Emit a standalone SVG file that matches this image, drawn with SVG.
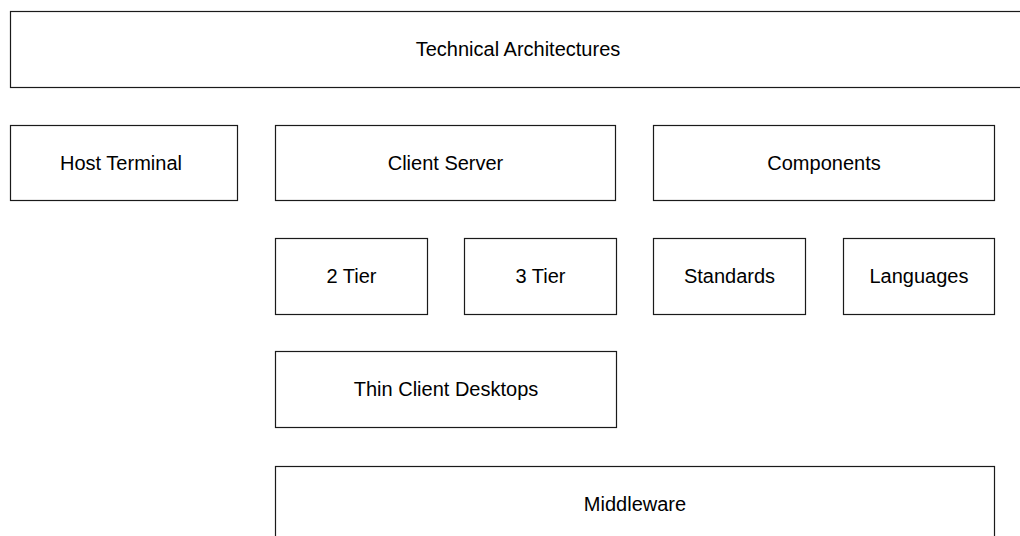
<svg xmlns="http://www.w3.org/2000/svg" width="1020" height="536" viewBox="0 0 1020 536">
<style>
rect{fill:#fff;stroke:#1a1a1a;stroke-width:1.2}
text{font-family:"Liberation Sans",Arial,sans-serif;font-size:20px;fill:#000;text-anchor:middle}
</style>
<rect x="0" y="0" width="1020" height="536" style="fill:#fff;stroke:none"/>
<g id="technical-architectures"><rect x="10.5" y="11.5" width="1030" height="76"/><text x="518" y="56">Technical Architectures</text></g>
<g id="host-terminal"><rect x="10.5" y="125.5" width="227" height="75"/><text x="121" y="169.5">Host Terminal</text></g>
<g id="client-server"><rect x="275.5" y="125.5" width="340" height="75"/><text x="445.5" y="169.5">Client Server</text></g>
<g id="components"><rect x="653.5" y="125.5" width="341" height="75"/><text x="824" y="169.5">Components</text></g>
<g id="tier2"><rect x="275.5" y="238.5" width="152" height="76"/><text x="351.5" y="283">2 Tier</text></g>
<g id="tier3"><rect x="464.5" y="238.5" width="152" height="76"/><text x="540.5" y="283">3 Tier</text></g>
<g id="standards"><rect x="653.5" y="238.5" width="152" height="76"/><text x="729.5" y="283">Standards</text></g>
<g id="languages"><rect x="843.5" y="238.5" width="151" height="76"/><text x="919" y="283">Languages</text></g>
<g id="thin-client"><rect x="275.5" y="351.5" width="341" height="76"/><text x="446" y="396">Thin Client Desktops</text></g>
<g id="middleware"><rect x="275.5" y="466.5" width="719" height="80"/><text x="635" y="511">Middleware</text></g>
<g id="connectors"></g>
</svg>
